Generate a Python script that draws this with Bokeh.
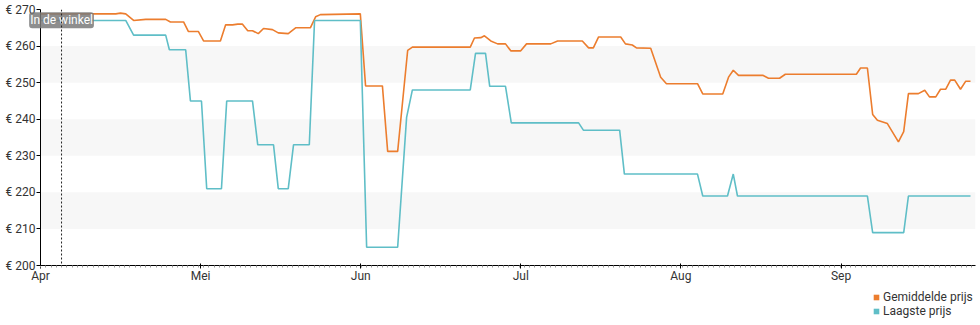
from bokeh.plotting import figure
from bokeh.layouts import column
from bokeh.models import (ColumnDataSource, FixedTicker, BoxAnnotation, Span, Label,
                          Legend, LegendItem)
from bokeh.embed import file_html
from bokeh.resources import INLINE

# ---- data (days since 1 April, price in euro) ----
avg_day = [0, 14.3, 15.2, 16.2, 17.7, 20.0, 23.8, 24.7, 27.2, 28.1, 30.0, 31.0, 34.2, 35.2,
           36.5, 37.5, 38.4, 39.4, 40.3, 41.4, 42.4, 44.1, 45.2, 47.1, 48.5, 51.3, 52.3,
           53.2, 60.8, 61.8, 65.0, 66.0, 67.9, 69.8, 70.7, 81.7, 82.5, 83.7, 84.4, 85.6,
           86.9, 88.4, 89.4, 91.3, 92.4, 97.0, 98.3, 103.0, 104.2, 105.1, 106.1, 110.3,
           111.2, 112.5, 113.3, 116.0, 117.9, 119.0, 124.9, 125.9, 129.7, 130.8, 131.7,
           132.7, 137.3, 138.4, 140.5, 141.6, 155.1, 155.9, 157.2, 158.2, 159.1, 161.0,
           163.1, 164.1, 165.0, 166.9, 168.1, 169.0, 170.2, 171.1, 172.1, 173.0, 173.8,
           174.9, 175.9, 176.8]
avg_price = [268.8, 268.8, 269.0, 268.8, 267.0, 267.3, 267.3, 266.6, 266.6, 264.0, 264.0,
             261.4, 261.4, 265.8, 265.8, 266.0, 266.0, 264.2, 264.2, 263.4, 264.8, 264.5,
             263.6, 263.4, 265.0, 265.0, 268.0, 268.6, 268.8, 249.1, 249.1, 231.2, 231.2,
             258.8, 259.7, 259.7, 262.2, 262.3, 262.8, 261.4, 260.6, 260.6, 258.7, 258.7,
             260.6, 260.6, 261.4, 261.4, 259.5, 259.5, 262.5, 262.5, 260.6, 260.3, 259.5,
             259.4, 251.5, 249.7, 249.7, 246.9, 246.9, 251.5, 253.4, 252.0, 252.0, 251.2,
             251.2, 252.3, 252.3, 254.0, 254.0, 241.3, 239.7, 238.8, 233.8, 236.6, 247.0,
             247.0, 247.9, 246.1, 246.1, 248.2, 248.2, 250.7, 250.7, 248.2, 250.4, 250.4]

low_day = [0, 16.2, 17.7, 23.8, 24.5, 27.6, 28.5, 30.6, 31.6, 34.4, 35.4, 40.3, 41.3, 44.3,
           45.2, 47.1, 48.1, 51.1, 52.1, 60.8, 62.0, 67.9, 69.6, 70.7, 81.7, 82.7, 84.6,
           85.4, 88.4, 89.5, 102.3, 103.2, 110.1, 111.0, 124.9, 125.9, 130.6, 131.7, 132.5,
           157.2, 158.2, 164.1, 165.0, 176.8]
low_price = [267, 267, 263, 263, 259, 259, 245, 245, 221, 221, 245, 245, 233, 233, 221, 221,
             233, 233, 267, 267, 205, 205, 240.5, 248, 248, 258, 258, 249, 249, 239, 239,
             237, 237, 225, 225, 219, 219, 225, 219, 219, 209, 209, 219, 219]

month_labels = ["Apr", "Mei", "Jun", "Jul", "Aug", "Sep"]
price_ticks = [200, 210, 220, 230, 240, 250, 260, 270]
band_ranges = [(210, 220), (230, 240), (250, 260)]
store_day = 4
store_label = "In de winkel"
series_names = ["Gemiddelde prijs", "Laagste prijs"]

ORANGE = "#ec7d2e"
TEAL = "#5fbec7"
FONT = "Roboto"

p = figure(width=980, height=292, output_backend="svg", toolbar_location=None,
           x_range=(0, 177.75), y_range=(200, 270),
           min_border_left=40, min_border_right=5, min_border_top=10, min_border_bottom=20)
p.margin = (-7, 0, 0, 0)
p.outline_line_color = None
p.xgrid.visible = False
p.ygrid.visible = False
p.background_fill_color = "white"
p.border_fill_color = "white"

for lo, hi in band_ranges:
    p.add_layout(BoxAnnotation(bottom=lo, top=hi, fill_color="#f7f7f7", fill_alpha=1,
                               line_color=None, level="underlay"))

p.line(avg_day, avg_price, line_color=ORANGE, line_width=1.6)
p.line(low_day, low_price, line_color=TEAL, line_width=1.6)

p.add_layout(Span(location=store_day, dimension="height", line_color="#222",
                  line_width=1, line_dash="2 2"))
# placed in a side panel so that it is not clipped at the frame edge
p.add_layout(Label(x=store_day, y=267.05, text=store_label, text_align="center",
                   text_baseline="middle", text_color="white", text_font=FONT,
                   text_font_size="12px", background_fill_color="#7a7a7a",
                   background_fill_alpha=0.85, border_radius=3, padding=1), "above")

# axes
month_pos = [i * 365.25 / 12 for i in range(len(month_labels))]
xa = p.xaxis[0]
xa.ticker = FixedTicker(ticks=month_pos, minor_ticks=list(range(0, 178)))
xa.major_label_overrides = {m: l for m, l in zip(month_pos, month_labels)}
xa.axis_line_color = "black"
xa.major_tick_line_color = "black"
xa.major_tick_in = 2
xa.major_tick_out = 3
xa.minor_tick_line_color = "#999999"
xa.minor_tick_in = 0
xa.minor_tick_out = 2
xa.major_label_standoff = 0
xa.major_label_text_font = FONT
xa.major_label_text_font_size = "12px"
xa.major_label_text_color = "#333333"

ya = p.yaxis[0]
ya.ticker = FixedTicker(ticks=price_ticks)
ya.major_label_overrides = {t: f"€ {t}" for t in price_ticks}
ya.axis_line_color = "black"
ya.major_tick_line_color = "black"
ya.major_tick_in = 0
ya.major_tick_out = 4
ya.minor_tick_line_color = None
ya.major_label_standoff = 1
ya.major_label_text_font = FONT
ya.major_label_text_font_size = "12px"
ya.major_label_text_color = "#333333"

# legend strip below the chart
lg = figure(width=980, height=40, output_backend="svg", toolbar_location=None,
            x_range=(0, 1), y_range=(0, 1), min_border=0,
            x_axis_location=None, y_axis_location=None)
lg.grid.visible = False
lg.outline_line_color = None
offscreen = ColumnDataSource(dict(x=[-5], y=[-5]))
r1 = lg.scatter("x", "y", source=offscreen, marker="square", fill_color=ORANGE,
                line_color=None)
r2 = lg.scatter("x", "y", source=offscreen, marker="square", fill_color=TEAL,
                line_color=None)
legend = Legend(items=[LegendItem(label=series_names[0], renderers=[r1]),
                       LegendItem(label=series_names[1], renderers=[r2])],
                location=(829, 7), orientation="vertical",
                glyph_width=14, glyph_height=14, label_height=14, label_standoff=0,
                spacing=0, padding=0, margin=0,
                label_text_font=FONT, label_text_font_size="12px",
                label_text_color="#333333",
                background_fill_alpha=0, border_line_color=None)
lg.add_layout(legend, "center")

open("out.html", "w").write(file_html(column(p, lg, spacing=0), INLINE))
